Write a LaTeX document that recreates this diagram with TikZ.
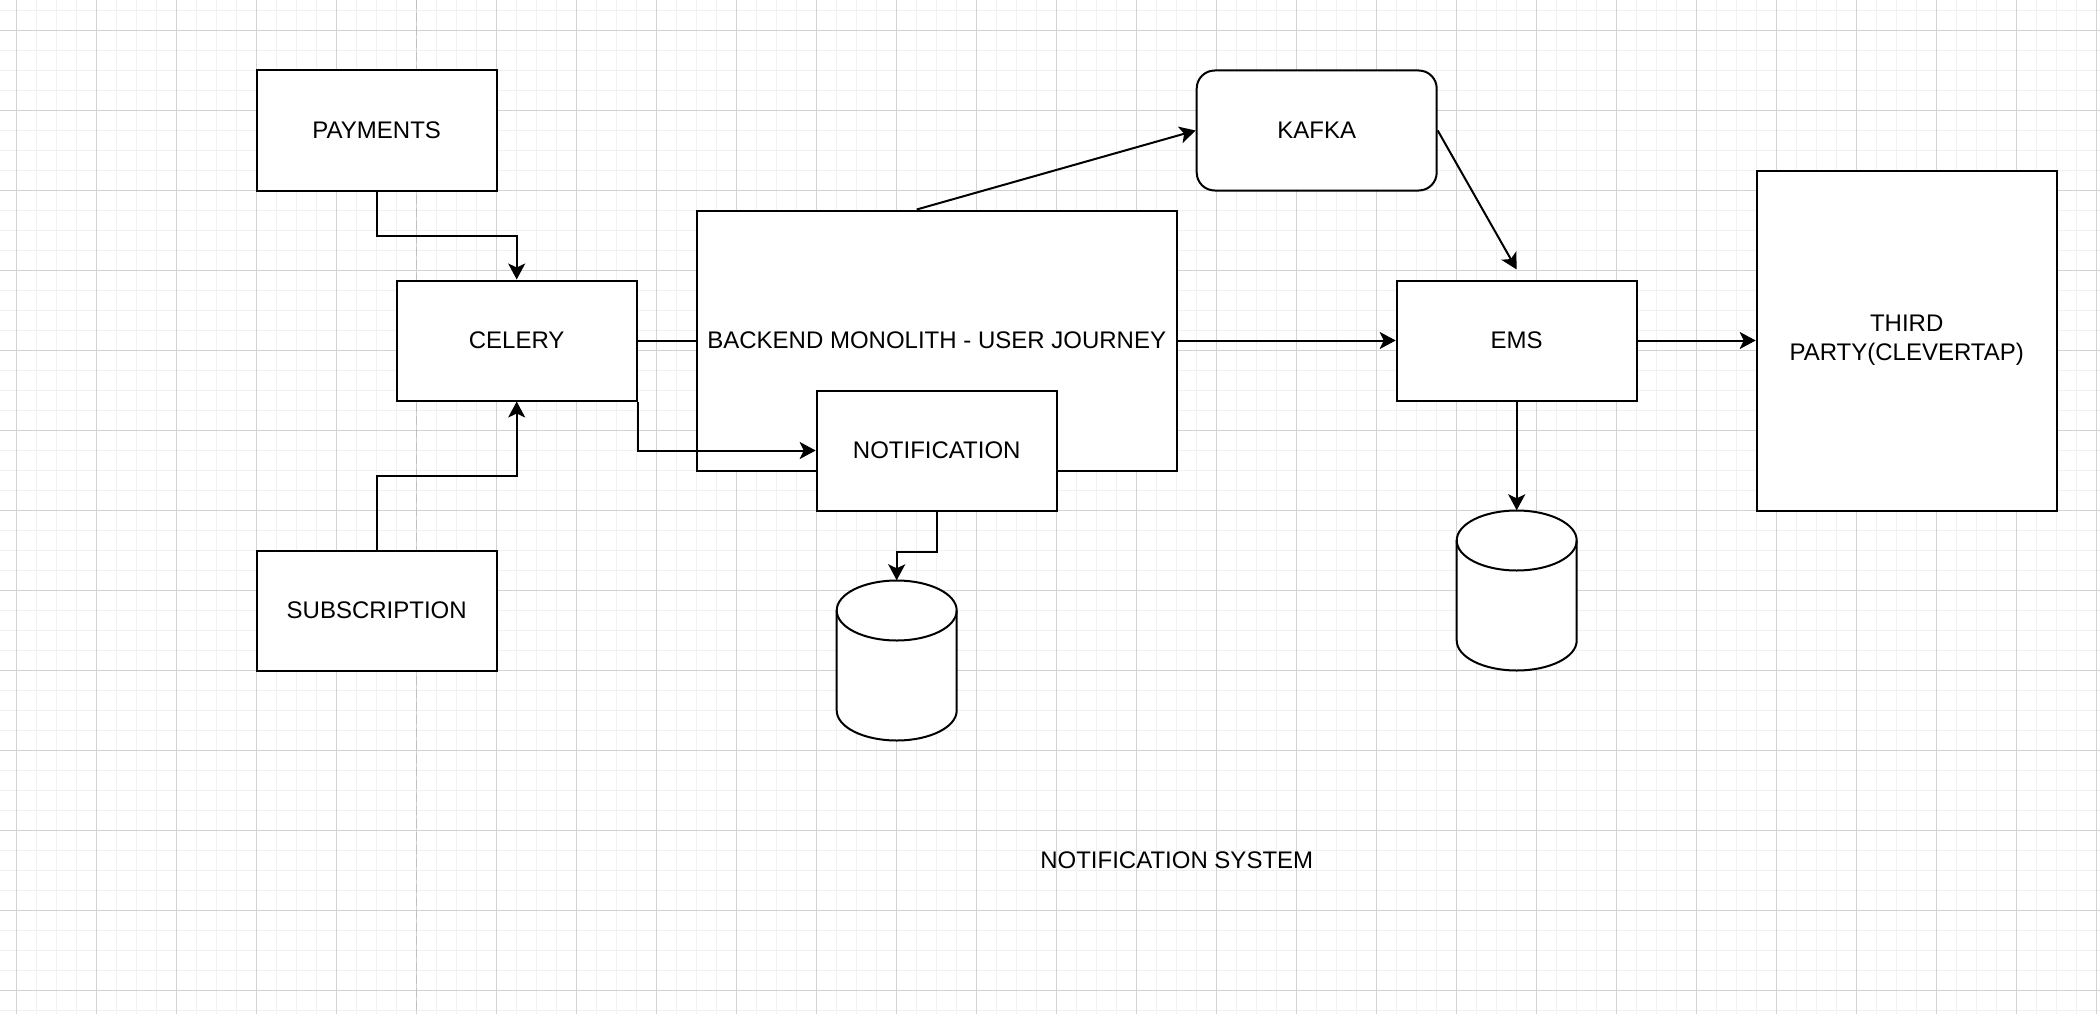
\documentclass[tikz,border=0pt]{standalone}
\usepackage{fontspec}
\setmainfont{Liberation Sans}
\usetikzlibrary{arrows.meta,calc}
\definecolor{gridminor}{HTML}{F1F1F1}
\definecolor{gridmajor}{HTML}{D3D3D3}
\definecolor{pagebreak}{HTML}{C0C0C0}
\begin{document}
\begin{tikzpicture}[x=20pt,y=-20pt,
  lbl/.style={font=\fontsize{24}{29}\selectfont, align=center},
  box/.style={lbl, draw=black, fill=white, line width=2pt, inner sep=0pt},
  conn/.style={line width=2pt, draw=black},
  arr/.style={conn, -{Stealth[length=16pt,width=17pt,inset=4pt]}},
  cylbox/.style={draw=none, inner sep=0pt, minimum width=120pt, minimum height=160pt},
  dbcyl/.pic={
    \draw[conn, fill=white] (-60pt,50pt) -- (-60pt,-50pt)
      arc[start angle=180,end angle=360,x radius=60pt,y radius=30pt]
      -- (60pt,50pt)
      arc[start angle=0,end angle=180,x radius=60pt,y radius=30pt] -- cycle;
    \draw[conn] (-60pt,50pt) arc[start angle=180,end angle=360,x radius=60pt,y radius=30pt];
  }
]
\useasboundingbox (-0.835,-1.525) rectangle (104.165,49.175);
\fill[white] (-0.835,-1.525) rectangle (104.165,49.175);
% grid
\foreach \i in {0,...,104} \draw[gridminor, line width=1.5pt] (\i,-1.525) -- (\i,49.175);
\foreach \j in {-1,...,49} \draw[gridminor, line width=1.5pt] (-0.835,\j) -- (104.165,\j);
\foreach \i in {0,4,...,104} \draw[gridmajor, line width=1.5pt] (\i,-1.525) -- (\i,49.175);
\foreach \j in {0,4,...,48} \draw[gridmajor, line width=1.5pt] (-0.835,\j) -- (104.165,\j);
% page break
\draw[pagebreak, line width=1.5pt, dash pattern=on 9pt off 4pt] (20,-1.525) -- (20,49.175);

% nodes
\node[box, minimum width=240pt, minimum height=120pt] (pay) at (18,5) {PAYMENTS};
\node[box, minimum width=240pt, minimum height=120pt] (celery) at (25,15.5) {CELERY};
\node[box, minimum width=240pt, minimum height=120pt] (sub) at (18,29) {SUBSCRIPTION};
\node[box, minimum width=480pt, minimum height=260pt] (backend) at (46,15.5) {BACKEND MONOLITH - USER JOURNEY};
\node[box, minimum width=240pt, minimum height=120pt] (notif) at (46,21) {NOTIFICATION};
\node[box, minimum width=240pt, minimum height=120pt, rounded corners=18pt] (kafka) at (65,5) {KAFKA};
\node[box, minimum width=240pt, minimum height=120pt] (ems) at (75,15.5) {EMS};
\node[box, minimum width=300pt, minimum height=340pt] (third) at (94.5,15.5) {THIRD\\PARTY(CLEVERTAP)};
\node[cylbox] (db1) at (44,31.5) {};
\pic at (db1.center) {dbcyl};
\node[cylbox] (db2) at (75,28) {};
\pic at (db2.center) {dbcyl};
\node[lbl] (title) at (58,41.5) {NOTIFICATION SYSTEM};
\coordinate (emsin) at ([yshift=10pt]ems.north);

% connectors
\draw[arr] (pay.south) |- ($(pay.south)!0.5!(celery.north)$) -| (celery.north);
\draw[arr] (sub.north) |- ($(sub.north)!0.5!(celery.south)$) -| (celery.south);
\draw[conn] (celery.east) -- (backend.west);
\draw[arr] (celery.south east) |- (notif.west);
\draw[arr] (notif.south) -- ++(0,2) -| (db1.north);
\draw[arr] ([xshift=-20pt]backend.north) -- (kafka.west);
\draw[arr] (kafka.east) -- (emsin);
\draw[arr] (backend.east) -- (ems.west);
\draw[arr] (ems.east) -- (third.west);
\draw[arr] (ems.south) -- (db2.north);
\end{tikzpicture}
\end{document}
